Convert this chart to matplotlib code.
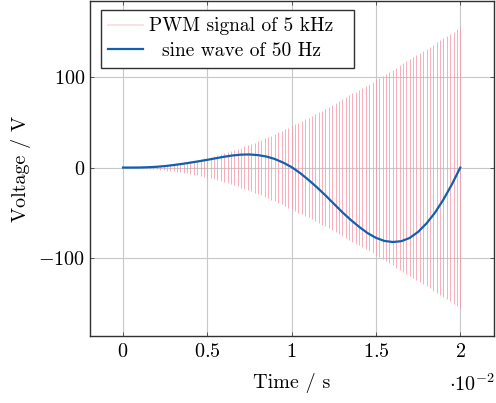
import numpy as np
import matplotlib
matplotlib.use("Agg")
import matplotlib.pyplot as plt
from matplotlib.ticker import FuncFormatter

plt.rcParams['font.family'] = 'serif'
plt.rcParams['font.serif'] = ['cmr10', 'DejaVu Serif']
plt.rcParams['mathtext.fontset'] = 'cm'
plt.rcParams['axes.formatter.use_mathtext'] = True

# envelope of the PWM signal (V), read at every ms
env_t_ms = [0, 1, 2, 3, 4, 5, 6, 7, 8, 9, 10, 11, 12, 13, 14, 15, 16, 17, 18, 19, 20]
env_v = [0, 0.4, 1.8, 4.2, 7, 11, 16, 22, 29, 37, 46, 55, 65, 76, 86, 97, 108, 120, 131, 143, 155]

# sine wave of 50 Hz (V), read every 0.5 ms
sine_t_ms = [0, 0.5, 1, 1.5, 2, 2.5, 3, 3.5, 4, 4.5, 5, 5.5, 6, 6.5, 7, 7.5, 8, 8.5, 9, 9.5,
             10, 10.5, 11, 11.5, 12, 12.5, 13, 13.5, 14, 14.5, 15, 15.5, 16, 16.5, 17, 17.5,
             18, 18.5, 19, 19.5, 20]
sine_v = [0, 0.02, 0.1, 0.4, 0.9, 1.7, 2.8, 4.1, 5.5, 7.0, 8.6, 10.3, 12.0, 13.4, 14.3, 14.5,
          13.8, 12.2, 9.5, 5.5, 0.5, -6.0, -13.6, -21.8, -30.6, -39.9, -49.2, -57.7, -65.4,
          -72.3, -77.6, -81.0, -82.2, -81.3, -77.7, -71.0, -61.6, -49.8, -35.3, -18.6, 0]

pwm_freq = 5000.0
duration = 0.02

xtick_vals = [0, 0.005, 0.01, 0.015, 0.02]
ytick_vals = [-100, 0, 100]

FS = 14.5

fig = plt.figure(figsize=(4.96, 4.03), dpi=100)
ax = fig.add_axes([90/496, 1-336/403, 404/496, 335/403])

t_env = np.array(env_t_ms) * 1e-3
n_pulses = int(round(duration * pwm_freq))
pulse_t = np.arange(n_pulses + 1) / pwm_freq
pulse_env = np.interp(pulse_t, t_env, env_v)
ax.vlines(pulse_t, -pulse_env, pulse_env, colors=(0.97, 0.60, 0.67), linewidth=0.7,
          alpha=0.8, zorder=2)
pwm_handle, = ax.plot([], [], color=(0.99, 0.85, 0.87), lw=1.2)

sine_handle, = ax.plot(np.array(sine_t_ms) * 1e-3, sine_v, color='#1060b0', lw=1.6, zorder=3)

ax.set_xlim(-0.00196, 0.0220)
ax.set_ylim(-186, 184)
ax.set_xticks(xtick_vals)
ax.set_yticks(ytick_vals)
ax.xaxis.set_major_formatter(FuncFormatter(lambda v, p: '$%g$' % round(v * 100, 3)))
ax.yaxis.set_major_formatter(FuncFormatter(lambda v, p: '$%g$' % v))
ax.grid(True, color='#c8c8c8', lw=0.8, zorder=0)
ax.set_axisbelow(True)
ax.tick_params(direction='in', length=3, width=0.6, colors='#404040', labelcolor='black',
               labelsize=FS, top=True, right=True)
ax.tick_params(axis='x', pad=5)
for s in ax.spines.values():
    s.set_color('#303030')
    s.set_linewidth(1.0)

ax.set_xlabel('Time / s', fontsize=FS, labelpad=9)
ax.set_ylabel('Voltage / V', fontsize=FS, labelpad=5)
fig.text(0.998, 1-384/403, r'$\cdot 10^{-2}$', fontsize=FS, ha='right', va='center')

leg = ax.legend([pwm_handle, sine_handle], ['PWM signal of 5 kHz  ', '  sine wave of 50 Hz'],
                loc='upper left', bbox_to_anchor=(0.027, 0.973), fontsize=14, fancybox=False,
                edgecolor='#303030', framealpha=1, borderpad=0.38, handlelength=1.8,
                handletextpad=0.3, labelspacing=0.35, borderaxespad=0)
leg.get_frame().set_linewidth(1.0)

fig.savefig('out.png', dpi=100)
